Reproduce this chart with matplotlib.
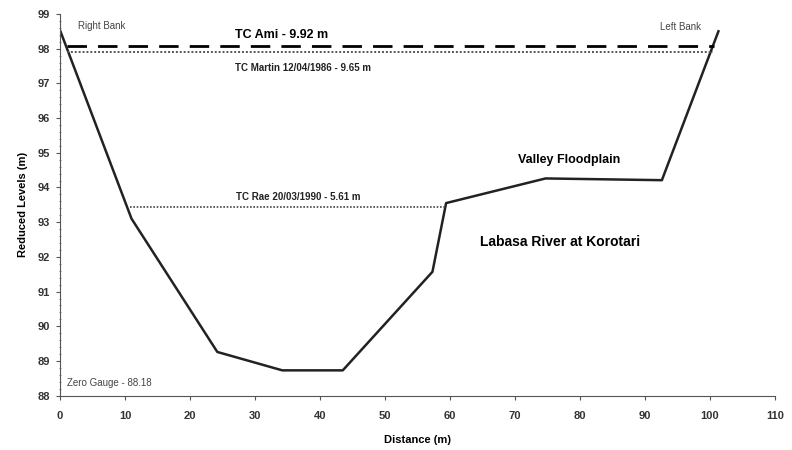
import matplotlib.pyplot as plt
from matplotlib.ticker import MultipleLocator

plt.rcParams['font.family'] = ['Liberation Sans', 'DejaVu Sans']

# Cross-section of the channel (distance m, reduced level m)
distance = [0, 11, 24.2, 34.2, 43.5, 57.3, 59.4, 74.7, 92.6, 101.3]
level = [98.53, 93.1, 89.26, 88.73, 88.73, 91.57, 93.55, 94.26, 94.21, 98.5]

# Flood levels
ami_x = [1.0, 100.6]
ami_y = [98.07, 98.07]
martin_x = [1.1, 100.4]
martin_y = [97.91, 97.91]
rae_x = [10.8, 59.4]
rae_y = [93.45, 93.45]

fig = plt.figure(figsize=(7.92, 4.5), dpi=100)
ax = fig.add_axes([0.0758, 0.1207, 0.9027, 0.8483])

ax.plot(distance, level, color='#222222', lw=1.8)
ax.plot(ami_x, ami_y, color='black', lw=2.0, dashes=(7, 4))
ax.plot(martin_x, martin_y, color='#555555', lw=1.4, ls=(0, (1, 1)))
ax.plot(rae_x, rae_y, color='#444444', lw=1.2, ls=(0, (1, 1)))

ax.text(2.8, 98.65, 'Right Bank', fontsize=7, color='#444444', va='center')
ax.text(92.3, 98.63, 'Left Bank', fontsize=7, color='#444444', va='center')
ax.text(26.9, 98.4, 'TC Ami - 9.92 m', fontsize=9, fontweight='bold', va='center')
ax.text(26.9, 97.44, 'TC Martin 12/04/1986 - 9.65 m', fontsize=7, fontweight='bold',
        color='#222222', va='center')
ax.text(27.1, 93.73, 'TC Rae 20/03/1990 - 5.61 m', fontsize=7, fontweight='bold',
        color='#222222', va='center')
ax.text(70.5, 94.8, 'Valley Floodplain', fontsize=9, fontweight='bold', va='center')
ax.text(64.6, 92.43, 'Labasa River at Korotari', fontsize=10, fontweight='bold', va='center')
ax.text(1.1, 88.37, 'Zero Gauge - 88.18', fontsize=7, color='#444444', va='center')

ax.set_xlim(0, 110)
ax.set_ylim(88, 99)
ax.set_xticks(range(0, 111, 10))
ax.set_yticks(range(88, 100))
ax.yaxis.set_minor_locator(MultipleLocator(0.2))
for lbl in ax.get_xticklabels() + ax.get_yticklabels():
    lbl.set_fontweight('bold')
    lbl.set_color('#333333')
ax.tick_params(labelsize=8, length=3, color='#555555')
ax.tick_params(axis='x', pad=8)
ax.tick_params(axis='y', which='major', pad=4)
ax.tick_params(axis='y', which='minor', length=2, direction='inout', color='#777777')

ax.set_xlabel('Distance (m)', fontsize=8, fontweight='bold', labelpad=10)
ax.set_ylabel('Reduced Levels (m)', fontsize=8, fontweight='bold', labelpad=7)

ax.spines['top'].set_visible(False)
ax.spines['right'].set_visible(False)
ax.spines['left'].set_color('#555555')
ax.spines['bottom'].set_color('#555555')

fig.savefig('out.png', dpi=100)
